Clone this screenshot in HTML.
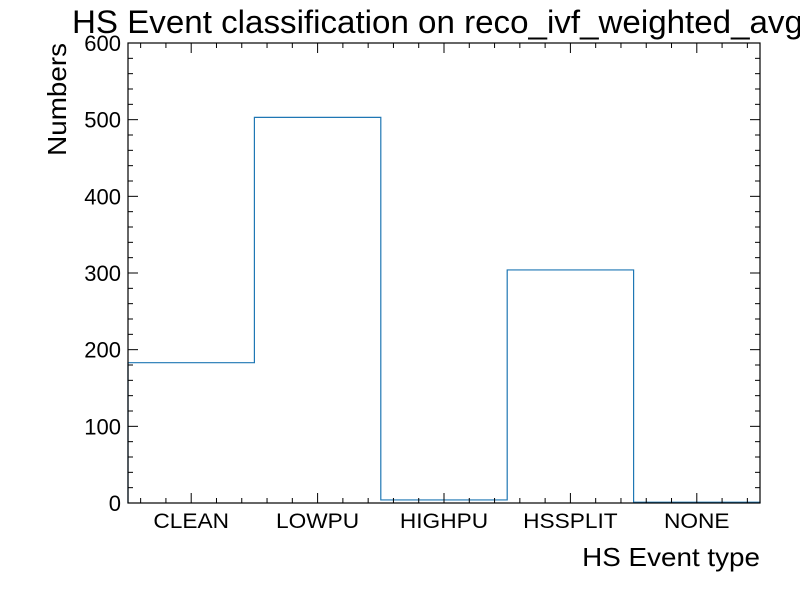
<!DOCTYPE html>
<html><head><meta charset="utf-8"><style>body{margin:0;background:#fff;overflow:hidden}svg{display:block;font-family:"Liberation Sans",sans-serif}</style></head>
<body>
<svg id="c" width="800" height="600"></svg>
<script>
const categories=["CLEAN","LOWPU","HIGHPU","HSSPLIT","NONE"];
const counts=[183,503,4,304,1];
const yTicks=[0,100,200,300,400,500,600];
const L=128,R=760,T=43,B=503,ymax=600;
const NS="http://www.w3.org/2000/svg";
const svg=document.getElementById('c');
const xs=v=>L+(v+0.5)/categories.length*(R-L);
const ys=v=>B-v/ymax*(B-T);
function mk(t,a,p){const e=document.createElementNS(NS,t);for(const k in a)e.setAttribute(k,a[k]);(p||svg).appendChild(e);return e;}
function stretch(t,f){const w=t.getComputedTextLength();t.setAttribute('textLength',w*f);t.setAttribute('lengthAdjust','spacingAndGlyphs');}
let d="M"+xs(-0.5)+","+ys(0);
counts.forEach((c,i)=>{d+=" L"+xs(i-0.5)+","+ys(c)+" L"+xs(i+0.5)+","+ys(c);});
d+=" L"+xs(categories.length-0.5)+","+ys(0);
const h=mk('path',{d:d,fill:'none',stroke:'#1f77b4','stroke-width':1.2});


const fr=mk('rect',{x:L,y:T,width:R-L,height:B-T,fill:'none',stroke:'#000','stroke-width':1.2});


for(let v=-0.4;v<categories.length-0.5;v+=0.2){
 const major=Math.abs(v-Math.round(v))<1e-6;const len=major?10:5;const x=xs(v);
 mk('line',{x1:x,x2:x,y1:B,y2:B-len,stroke:'#000'});
 mk('line',{x1:x,x2:x,y1:T,y2:T+len,stroke:'#000'});
}
categories.forEach((c,i)=>{const t=mk('text',{x:xs(i),y:528,'font-size':21,'text-anchor':'middle'});t.textContent=c;stretch(t,1.08);

});
for(let v=0;v<=ymax;v+=20){
 const major=v%100===0;const len=major?10:5;const y=ys(v);
 mk('line',{x1:L,x2:L+len,y1:y,y2:y,stroke:'#000'});
 mk('line',{x1:R,x2:R-len,y1:y,y2:y,stroke:'#000'});
}
yTicks.forEach(v=>{const t=mk('text',{x:121,y:ys(v)+8,'font-size':22,'text-anchor':'end'});t.textContent=v;

});
const xt=mk('text',{x:760,y:566,'font-size':26,'text-anchor':'end'});xt.textContent="HS Event type";stretch(xt,1.07);


const yt=mk('text',{x:0,y:0,'font-size':26,'text-anchor':'end',transform:'translate(66,43) rotate(-90)'});yt.textContent="Numbers";stretch(yt,1.07);


const tt=mk('text',{x:72,y:33,'font-size':32});tt.textContent="HS Event classification on reco_ivf_weighted_avg";stretch(tt,1.035);


</script>
</body></html>
